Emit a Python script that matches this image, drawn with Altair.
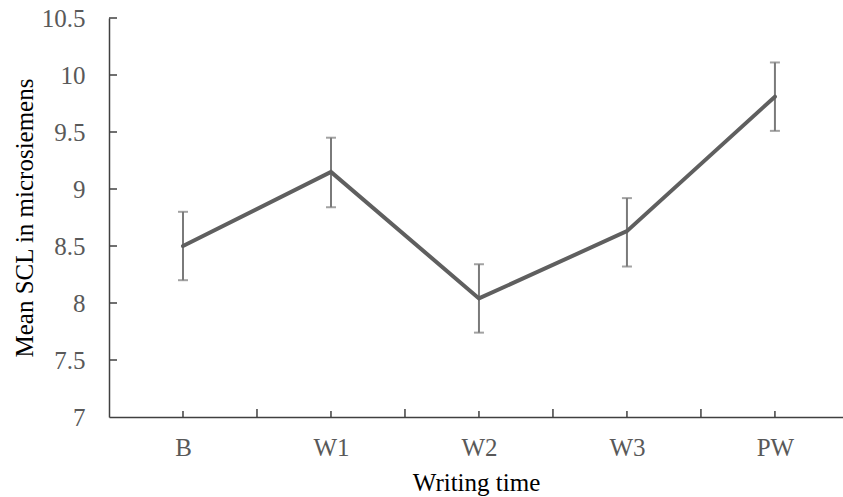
import altair as alt
import pandas as pd

# ---- data ----
categories = ["B", "W1", "W2", "W3", "PW"]
means = [8.50, 9.15, 8.04, 8.63, 9.81]
err_low = [8.20, 8.84, 7.74, 8.32, 9.51]
err_high = [8.80, 9.45, 8.34, 8.92, 10.11]

y_tick_values = [7.5, 8.0, 8.5, 9.0, 9.5, 10.0, 10.5]
x_center_ticks = [0, 1, 2, 3, 4]
x_boundary_ticks = [0.5, 1.5, 2.5, 3.5]

FONT = "Liberation Serif"
W, H = 734, 399

df = pd.DataFrame({
    "idx": list(range(len(categories))),
    "cat": categories,
    "mean": means,
    "lo": err_low,
    "hi": err_high,
})

xscale = alt.Scale(domain=[-0.5, 4.46], nice=False, zero=False)
yscale = alt.Scale(domain=[7, 10.5], nice=False, zero=False)

label_expr = "[" + ",".join("'" + c + "'" for c in categories) + "][datum.value]"

xaxis = alt.Axis(values=x_center_ticks, labelExpr=label_expr, title="Writing time",
                 grid=False, ticks=False, tickSize=0, labelPadding=18,
                 labelFont=FONT, labelFontSize=25, labelColor="#595959",
                 titleFont=FONT, titleFontSize=25, titleFontWeight="normal",
                 titleColor="#000000", titlePadding=10,
                 domainColor="#404040", domainWidth=1.5)
yaxis = alt.Axis(values=[7.0] + y_tick_values, format="~g", title="Mean SCL in microsiemens",
                 grid=False, ticks=False, tickSize=0, labelPadding=24,
                 labelFont=FONT, labelFontSize=25, labelColor="#595959",
                 titleFont=FONT, titleFontSize=25, titleFontWeight="normal",
                 titleColor="#000000", titlePadding=4,
                 domainColor="#404040", domainWidth=1.5)

base = alt.Chart(df)

line = base.mark_line(color="#5f5f5f", strokeWidth=4, strokeCap="round").encode(
    x=alt.X("idx:Q", scale=xscale, axis=xaxis),
    y=alt.Y("mean:Q", scale=yscale, axis=yaxis),
)

err = base.mark_rule(color="#7a7a7a", strokeWidth=2).encode(
    x=alt.X("idx:Q", scale=xscale, axis=xaxis),
    y=alt.Y("lo:Q", scale=yscale, axis=yaxis),
    y2="hi:Q",
)
cap_lo = base.mark_tick(color="#7a7a7a", orient="horizontal", size=10, thickness=2).encode(
    x=alt.X("idx:Q", scale=xscale, axis=xaxis),
    y=alt.Y("lo:Q", scale=yscale, axis=yaxis),
)
cap_hi = base.mark_tick(color="#7a7a7a", orient="horizontal", size=10, thickness=2).encode(
    x=alt.X("idx:Q", scale=xscale, axis=xaxis),
    y=alt.Y("hi:Q", scale=yscale, axis=yaxis),
)

# inward tick marks (Excel style)
ytick_df = pd.DataFrame({"v": y_tick_values})
yticks = alt.Chart(ytick_df).mark_rule(color="#404040", strokeWidth=1.5).encode(
    y=alt.Y("v:Q", scale=yscale, axis=yaxis),
    x=alt.value(0), x2=alt.value(8),
)
xc_df = pd.DataFrame({"p": x_center_ticks})
xcticks = alt.Chart(xc_df).mark_rule(color="#404040", strokeWidth=1.5).encode(
    x=alt.X("p:Q", scale=xscale, axis=xaxis),
    y=alt.value(H), y2=alt.value(H - 6),
)
xb_df = pd.DataFrame({"p": x_boundary_ticks})
xbticks = alt.Chart(xb_df).mark_rule(color="#404040", strokeWidth=1.5).encode(
    x=alt.X("p:Q", scale=xscale, axis=xaxis),
    y=alt.value(H), y2=alt.value(H - 8),
)

chart = alt.layer(yticks, xcticks, xbticks, err, cap_lo, cap_hi, line).properties(
    width=W, height=H,
    padding={"left": 109, "top": 18, "right": 0, "bottom": 80},
    autosize=alt.AutoSizeParams(type="none"),
).configure(background="white").configure_view(stroke=None)

chart.save("out.html", embed_options={"renderer": "svg", "actions": False})
